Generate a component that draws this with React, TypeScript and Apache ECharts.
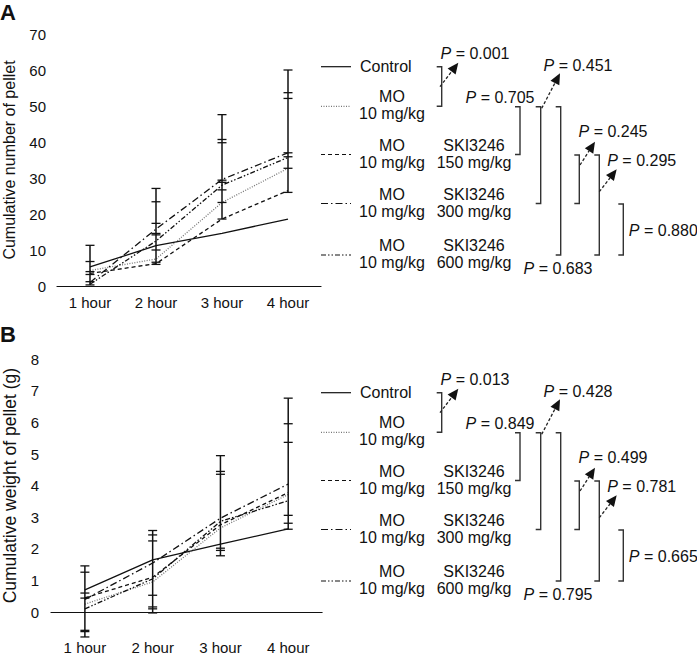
import React, { useEffect, useRef } from "react";
import * as echarts from "echarts";

// ---------- data ----------
const hours = ["1 hour", "2 hour", "3 hour", "4 hour"];
const groupNames = [
  "Control",
  "MO 10 mg/kg",
  "MO 10 mg/kg + SKI3246 150 mg/kg",
  "MO 10 mg/kg + SKI3246 300 mg/kg",
  "MO 10 mg/kg + SKI3246 600 mg/kg",
];
// Panel A: cumulative number of pellet
const countControl = [5.3, 11.2, 14.6, 18.6];
const countMO = [4.3, 7.5, 23.2, 32.7];
const countSKI150 = [3.5, 6.2, 18.6, 26.5];
const countSKI300 = [1.0, 15.8, 29.6, 37.0];
const countSKI600 = [0.5, 12.5, 28.0, 35.7];
const countErrorCaps = [
  [11.3, 6.8, 4.0, 3.2, 1.2, 0.3],
  [27.1, 23.4, 17.4, 14.6, 14.2, 10.0, 6.6, 6.0],
  [47.6, 40.7, 39.8, 29.4, 28.8, 26.7, 23.2, 18.6],
  [60.0, 53.7, 52.1, 37.0, 35.9, 32.7, 26.0],
];
// Panel B: cumulative weight of pellet (g)
const weightControl = [0.7, 1.65, 2.15, 2.63];
const weightMO = [0.25, 0.95, 2.66, 3.72];
const weightSKI150 = [0.45, 1.1, 2.76, 3.78];
const weightSKI300 = [0.4, 1.55, 2.97, 4.05];
const weightSKI600 = [0.1, 1.05, 2.87, 3.52];
const weightErrorCaps = [
  [1.46, 1.26, 0.6, 0.44, -0.58, -0.62, -0.79],
  [2.58, 2.44, 2.25, 0.53, 0.16, 0.1, -0.03],
  [4.95, 4.45, 4.36, 2.02, 1.95, 1.78],
  [6.77, 5.96, 5.37, 3.06, 2.81, 2.62],
];
// comparisons between groups and their P values
const comparisons = [[0, 1], [1, 2], [1, 3], [1, 4], [2, 3], [2, 4], [3, 4]];
const pValuesA = ["0.001", "0.705", "0.451", "0.683", "0.245", "0.295", "0.880"];
const pValuesB = ["0.013", "0.849", "0.428", "0.795", "0.499", "0.781", "0.665"];

// ---------- styles / layout ----------
const FONT = "'Liberation Sans', Arial, Helvetica, sans-serif";
const lineStyles: any[] = [
  { type: "solid", color: "#111" },
  { type: [1, 1.5], color: "#777" },
  { type: [4, 3], color: "#111" },
  { type: [7, 3, 1.5, 3], color: "#111" },
  { type: [5, 2, 1.5, 2, 1.5, 2], color: "#111" },
];
const rowY = [66.7, 106.3, 154.5, 203.5, 255];
const bracketX = [441.7, 520, 540.7, 560.7, 579.3, 599.3, 623.3];
const labelPos = [
  [475, 53.3], [500, 97.3], [578, 65], [558, 268.3], [613, 131.7], [641.7, 160], [663.3, 230.7],
];
const arrows: (number[] | null)[] = [
  [440, 86.7, 458.3, 62.7], null, [541.7, 108.3, 560, 73.3], null,
  [580, 165, 595, 141.7], [599.3, 191.7, 616.7, 169.3], null,
];

function legendGraphics(dy: number, pvals: string[]) {
  const els: any[] = [];
  const txt = (x: number, y: number, text: string, align = "center") => ({
    type: "text",
    x, y,
    style: { text, fontSize: 16, fontFamily: FONT, fill: "#111", align, verticalAlign: "middle" },
  });
  groupNames.forEach((name, i) => {
    const ly = rowY[i] + dy;
    els.push({
      type: "line",
      shape: { x1: 321, y1: ly, x2: 351, y2: ly },
      style: { stroke: lineStyles[i].color, lineWidth: 1.2, lineDash: lineStyles[i].type === "solid" ? null : lineStyles[i].type },
    });
    if (i === 0) {
      els.push(txt(360, ly, name, "left"));
    } else {
      const parts = name.split(" + ");
      const mo = parts[0].split(" ");
      els.push(txt(392, ly - 9.5, mo[0]));
      els.push(txt(392, ly + 7.5, mo.slice(1).join(" ")));
      if (parts[1]) {
        const ski = parts[1].split(" ");
        els.push(txt(474, ly - 9.5, ski[0]));
        els.push(txt(474, ly + 7.5, ski.slice(1).join(" ")));
      }
    }
  });
  comparisons.forEach(([a, b], k) => {
    const x = bracketX[k];
    const y1 = rowY[a] + dy + (a === 0 ? 0 : 0.5);
    const y2 = rowY[b] + dy;
    els.push({
      type: "polyline",
      shape: { points: [[x - 5, y1], [x, y1], [x, y2], [x - 5, y2]] },
      style: { stroke: "#333", lineWidth: 1.4, fill: null },
    });
    const [lx, lyy] = labelPos[k];
    els.push({
      type: "text",
      x: lx, y: lyy + dy,
      style: {
        text: "{i|P} = " + pvals[k],
        rich: { i: { fontStyle: "italic", fontSize: 16, fontFamily: FONT, fill: "#111" } },
        fontSize: 16, fontFamily: FONT, fill: "#111", align: "center", verticalAlign: "middle",
      },
    });
    const ar = arrows[k];
    if (ar) {
      const [sx, sy, ex, ey] = [ar[0], ar[1] + dy, ar[2], ar[3] + dy];
      const ang = Math.atan2(ey - sy, ex - sx);
      const L = 11, W = 5;
      const bx = ex - L * Math.cos(ang), by = ey - L * Math.sin(ang);
      els.push({
        type: "line",
        shape: { x1: sx, y1: sy, x2: bx, y2: by },
        style: { stroke: "#222", lineWidth: 1.3, lineDash: [3, 2] },
      });
      els.push({
        type: "polygon",
        shape: {
          points: [
            [ex, ey],
            [bx + W * Math.sin(ang), by - W * Math.cos(ang)],
            [bx - W * Math.sin(ang), by + W * Math.cos(ang)],
          ],
        },
        style: { fill: "#111" },
      });
    }
  });
  return els;
}

function errorBarSeries(caps: number[][], axisIndex: number) {
  return {
    type: "custom",
    xAxisIndex: axisIndex,
    yAxisIndex: axisIndex,
    clip: false,
    z: 3,
    encode: { x: 0, y: [1, 2] },
    data: caps.map((c, i) => [i, Math.min(...c), Math.max(...c)]),
    renderItem: (params: any, api: any) => {
      const i = api.value(0);
      const top = api.coord([i, api.value(2)]);
      const bot = api.coord([i, api.value(1)]);
      const children: any[] = [
        { type: "line", shape: { x1: top[0], y1: top[1], x2: bot[0], y2: bot[1] }, style: { stroke: "#111", lineWidth: 1.5 } },
      ];
      caps[params.dataIndex].forEach((v) => {
        const p = api.coord([i, v]);
        children.push({
          type: "line",
          shape: { x1: p[0] - 4.5, y1: p[1], x2: p[0] + 4.5, y2: p[1] },
          style: { stroke: "#111", lineWidth: 1.3 },
        });
      });
      return { type: "group", children };
    },
  };
}

function lineSeries(data: number[], i: number, axisIndex: number) {
  return {
    type: "line",
    name: groupNames[i],
    xAxisIndex: axisIndex,
    yAxisIndex: axisIndex,
    data,
    symbol: "none",
    lineStyle: { color: lineStyles[i].color, width: 1.3, type: lineStyles[i].type },
    z: 2,
  };
}

export default function App() {
  const ref = useRef<HTMLDivElement>(null);
  useEffect(() => {
    if (!ref.current) return;
    const chart = echarts.init(ref.current, null, { renderer: "svg" });
    const axisCommon = {
      axisLine: { lineStyle: { color: "#111", width: 1.2 } },
      axisTick: { lineStyle: { color: "#111", width: 1.2 }, length: 5 },
      splitLine: { show: false },
    };
    const option: any = {
      animation: false,
      backgroundColor: "#fff",
      textStyle: { fontFamily: FONT },
      grid: [
        { left: 55, top: 34, width: 266, height: 252 },
        { left: 46.5, top: 359.3, width: 275.6, height: 253 },
      ],
      xAxis: [
        {
          ...axisCommon, gridIndex: 0, type: "category", data: hours, boundaryGap: true,
          axisTick: { ...axisCommon.axisTick, interval: 0 },
          axisLabel: { color: "#111", fontSize: 15, fontFamily: FONT, margin: 9 },
        },
        {
          ...axisCommon, gridIndex: 1, type: "category", data: hours, boundaryGap: true,
          axisTick: { ...axisCommon.axisTick, interval: 0 },
          axisLabel: { color: "#111", fontSize: 15, fontFamily: FONT, margin: 28 },
        },
      ],
      yAxis: [
        {
          ...axisCommon, gridIndex: 0, type: "value", min: 0, max: 70, interval: 10,
          axisLabel: { color: "#111", fontSize: 15, fontFamily: FONT, margin: 11 },
          name: "Cumulative number of pellet", nameLocation: "middle", nameGap: 40,
          nameTextStyle: { color: "#111", fontSize: 16, fontFamily: FONT },
        },
        {
          ...axisCommon, gridIndex: 1, type: "value", min: 0, max: 8, interval: 1,
          axisLabel: { color: "#111", fontSize: 15, fontFamily: FONT, margin: 12 },
          name: "Cumulative weight of pellet (g)", nameLocation: "middle", nameGap: 32,
          nameTextStyle: { color: "#111", fontSize: 17.5, fontFamily: FONT },
        },
      ],
      series: [
        lineSeries(countControl, 0, 0),
        lineSeries(countMO, 1, 0),
        lineSeries(countSKI150, 2, 0),
        lineSeries(countSKI300, 3, 0),
        lineSeries(countSKI600, 4, 0),
        errorBarSeries(countErrorCaps, 0),
        lineSeries(weightControl, 0, 1),
        lineSeries(weightMO, 1, 1),
        lineSeries(weightSKI150, 2, 1),
        lineSeries(weightSKI300, 3, 1),
        lineSeries(weightSKI600, 4, 1),
        errorBarSeries(weightErrorCaps, 1),
      ],
      graphic: [
        { type: "text", x: 0, y: 1, style: { text: "A", fontSize: 22, fontWeight: "bold", fontFamily: FONT, fill: "#111" } },
        { type: "text", x: 0, y: 323, style: { text: "B", fontSize: 22, fontWeight: "bold", fontFamily: FONT, fill: "#111" } },
        ...legendGraphics(0, pValuesA),
        ...legendGraphics(326, pValuesB),
      ],
    };
    chart.setOption(option);
    return () => chart.dispose();
  }, []);
  return (
    <div
      ref={ref}
      style={{ position: "absolute", left: 0, top: 0, width: 697, height: 655, background: "#fff" }}
    />
  );
}
